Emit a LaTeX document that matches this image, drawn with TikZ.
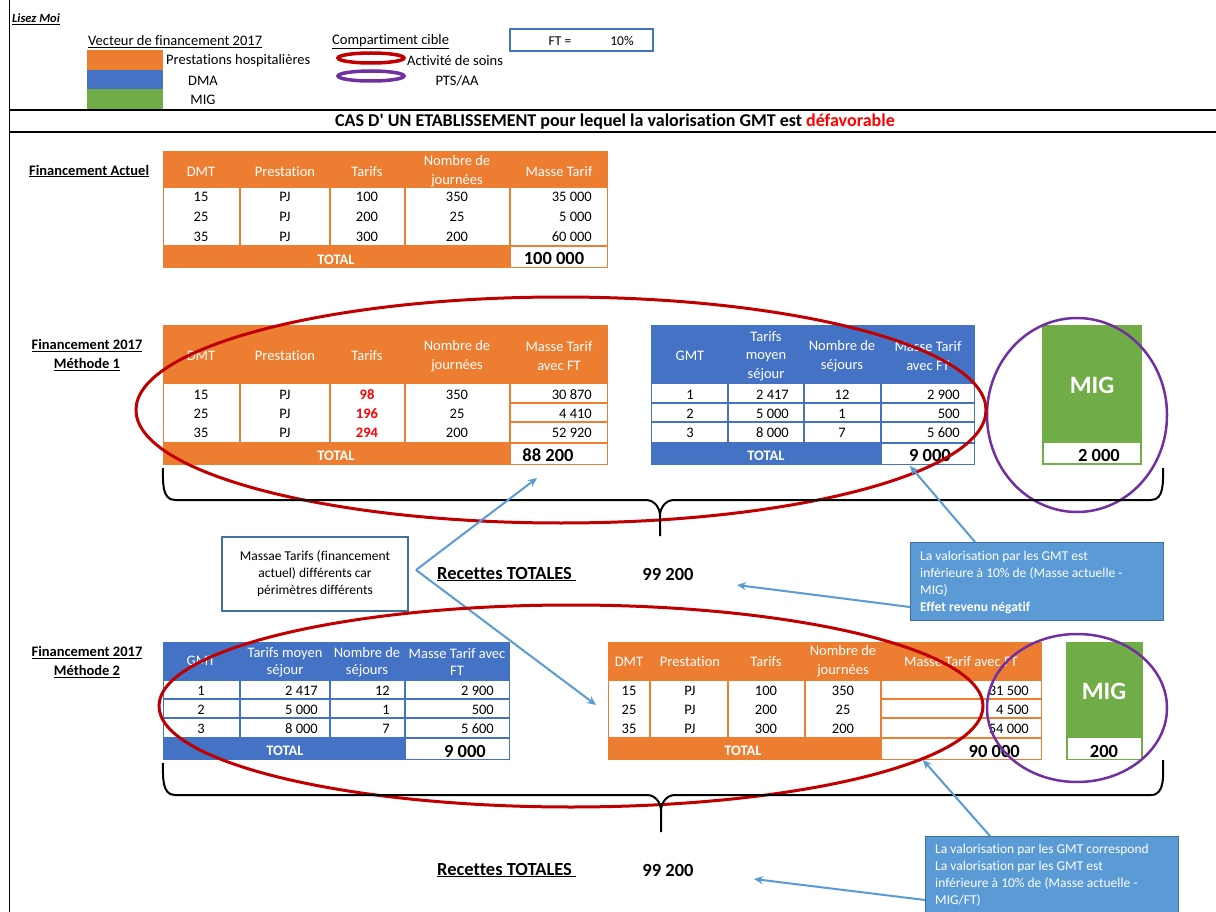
\documentclass[tikz,border=0pt]{standalone}
\usepackage{fontspec}
\setmainfont{Carlito}[Ligatures=NoCommon]
\usetikzlibrary{arrows.meta}

\definecolor{xlorange}{HTML}{ED7D31}
\definecolor{xlblue}{HTML}{4472C4}
\definecolor{xlgreen}{HTML}{70AD47}
\definecolor{xlsky}{HTML}{5B9BD5}
\definecolor{xlsteel}{HTML}{41719C}
\definecolor{xlred}{HTML}{C00000}
\definecolor{xlpurple}{HTML}{7030A0}
\definecolor{xlalert}{HTML}{FF0000}

\newcommand{\xlcell}{\fontsize{14.5}{18.5}\selectfont}
\newcommand{\xlnote}{\fontsize{13.5}{17}\selectfont}
\newcommand{\xlbig}{\fontsize{18.5}{21}\selectfont\bfseries}

\tikzset{
  txt/.style={inner sep=0pt, font=\xlcell},
  hd/.style={txt, text=white, align=center},
  num/.style={txt, anchor=east},
  big/.style={inner sep=0pt, font=\xlbig},
  lbl/.style={inner sep=0pt, align=center, font=\fontsize{14.5}{19}\selectfont\bfseries},
  note/.style={inner sep=0pt, align=left, anchor=north west, text=white, font=\xlnote},
  callout/.style={draw=xlsteel, fill=xlsky, line width=1pt, inner sep=0pt, anchor=north west},
  pointer/.style={draw=xlsky, line width=2pt, -{Stealth[length=9pt,width=8pt]}},
  ring/.style={line width=3pt},
  bracket/.style={line width=2pt},
}

\begin{document}
\begin{tikzpicture}[x=1pt, y=-1pt]
  \fill[white] (0,0) rectangle (1216,912);
  \useasboundingbox (0,0) rectangle (1216,912);

  % legend
  \draw[line width=1pt] (9,0) -- (9,912);
  \node[txt, anchor=west, font=\fontsize{12.5}{15}\selectfont\bfseries\itshape] (readme) at (12,19) {\underline{Lisez Moi}};
  \node[txt, anchor=west] (vecteur) at (88,42) {\underline{Vecteur de financement 2017}};
  \node[txt, anchor=west] (cible) at (332,42) {\underline{Compartiment cible}};
  \draw[xlblue, line width=2pt] (510,29) rectangle (653,51);
  \node[txt, font=\xlnote] (ftlabel) at (560,41) {FT =};
  \node[txt, font=\xlnote] (ftvalue) at (622,41) {10\%};
  \fill[xlorange] (87,50) rectangle (163,70);
  \fill[xlblue] (87,70) rectangle (163,89);
  \fill[xlgreen] (87,89) rectangle (163,109);
  \node[txt, anchor=west] (presta) at (166,61) {Prestations hospitalières};
  \node[txt] (dma) at (203,81) {DMA};
  \node[txt] (mig) at (203,100) {MIG};
  \draw[xlred, line width=3.5pt] (371,58) ellipse [x radius=33, y radius=5];
  \draw[xlpurple, line width=3.5pt] (371,76) ellipse [x radius=33, y radius=5];
  \node[txt, anchor=west] (soins) at (407,61) {Activité de soins};
  \node[txt] (ptsaa) at (457,81) {PTS/AA};
  \draw[line width=2.5pt] (9,110) -- (1216,110);
  \draw[line width=2.5pt] (9,132) -- (1216,132);
  \node[txt, font=\fontsize{18}{20}\selectfont\bfseries] (titre) at (615,122) {CAS D\textquotesingle{} UN ETABLISSEMENT pour lequel la valorisation GMT est \textcolor{xlalert}{défavorable}};

  % financement actuel
  \node[lbl, anchor=west] (actuel) at (29,171) {\underline{Financement Actuel}};
  \fill[xlorange] (163,151) rectangle (608,268);
  \fill[white] (164,188) rectangle (607,245);
  \draw[xlorange, line width=2pt] (240,187) -- (240,246);
  \draw[xlorange, line width=2pt] (330,187) -- (330,246);
  \draw[xlorange, line width=2pt] (405,187) -- (405,246);
  \draw[xlorange, line width=2pt] (510,187) -- (510,246);
  \fill[white] (511,247) rectangle (607,267);
  \node[hd] (a-dmt) at (201,172) {DMT};
  \node[hd] (a-presta) at (285,172) {Prestation};
  \node[hd] (a-tarif) at (367,172) {Tarifs};
  \node[hd] (a-nb) at (457,171) {Nombre de\\journées};
  \node[hd] (a-masse) at (559,172) {Masse Tarif};
  \node[txt] (a-d1) at (201,197) {15};
  \node[txt] (a-p1) at (285,197) {PJ};
  \node[txt] (a-t1) at (367,197) {100};
  \node[txt] (a-n1) at (457,197) {350};
  \node[num] (a-m1) at (592,197) {35 000};
  \node[txt] (a-d2) at (201,217) {25};
  \node[txt] (a-p2) at (285,217) {PJ};
  \node[txt] (a-t2) at (367,217) {200};
  \node[txt] (a-n2) at (457,217) {25};
  \node[num] (a-m2) at (592,217) {5 000};
  \node[txt] (a-d3) at (201,237) {35};
  \node[txt] (a-p3) at (285,237) {PJ};
  \node[txt] (a-t3) at (367,237) {300};
  \node[txt] (a-n3) at (457,237) {200};
  \node[num] (a-m3) at (592,237) {60 000};
  \node[hd, font=\xlcell\bfseries] (a-total) at (336,260) {TOTAL};
  \node[big] (a-sum) at (554,258) {100 000};

  % methode 1, prestations
  \node[lbl] (m1) at (87,355) {\underline{Financement 2017}\\\underline{Méthode 1}};
  \fill[xlorange] (163,325) rectangle (608,465);
  \fill[white] (164,384) rectangle (607,442);
  \draw[xlorange, line width=2pt] (240,383) -- (240,443);
  \draw[xlorange, line width=2pt] (330,383) -- (330,443);
  \draw[xlorange, line width=2pt] (405,383) -- (405,443);
  \draw[xlorange, line width=2pt] (510,383) -- (510,443);
  \draw[xlorange, line width=2pt] (510,403) -- (608,403);
  \draw[xlorange, line width=2pt] (510,422) -- (608,422);
  \fill[white] (511,444) rectangle (607,464);
  \node[hd] (b-dmt) at (201,356) {DMT};
  \node[hd] (b-presta) at (285,356) {Prestation};
  \node[hd] (b-tarif) at (367,356) {Tarifs};
  \node[hd] (b-nb) at (457,356) {Nombre de\\journées};
  \node[hd] (b-masse) at (559,356) {Masse Tarif\\avec FT};
  \node[txt] (b-d1) at (201,395) {15};
  \node[txt] (b-p1) at (285,395) {PJ};
  \node[txt, text=xlalert, font=\xlcell\bfseries] (b-t1) at (367,395) {98};
  \node[txt] (b-n1) at (457,395) {350};
  \node[num] (b-m1) at (592,395) {30 870};
  \node[txt] (b-d2) at (201,414) {25};
  \node[txt] (b-p2) at (285,414) {PJ};
  \node[txt, text=xlalert, font=\xlcell\bfseries] (b-t2) at (367,414) {196};
  \node[txt] (b-n2) at (457,414) {25};
  \node[num] (b-m2) at (592,414) {4 410};
  \node[txt] (b-d3) at (201,433) {35};
  \node[txt] (b-p3) at (285,433) {PJ};
  \node[txt, text=xlalert, font=\xlcell\bfseries] (b-t3) at (367,433) {294};
  \node[txt] (b-n3) at (457,433) {200};
  \node[num] (b-m3) at (592,433) {52 920};
  \node[hd, font=\xlcell\bfseries] (b-total) at (336,456) {TOTAL};
  \node[big] (b-sum) at (548,455) {88 200};

  % methode 1, GMT
  \fill[xlblue] (651,325) rectangle (975,465);
  \fill[white] (652,384) rectangle (974,442);
  \draw[xlblue, line width=2pt] (728,383) -- (728,443);
  \draw[xlblue, line width=2pt] (804,383) -- (804,443);
  \draw[xlblue, line width=2pt] (881,383) -- (881,443);
  \draw[xlblue, line width=2pt] (651,403) -- (975,403);
  \draw[xlblue, line width=2pt] (651,422) -- (975,422);
  \fill[white] (882,444) rectangle (974,464);
  \node[hd] (c-gmt) at (690,356) {GMT};
  \node[hd] (c-tarif) at (766,356) {Tarifs\\moyen\\séjour};
  \node[hd] (c-nb) at (842,356) {Nombre de\\séjours};
  \node[hd] (c-masse) at (928,356) {Masse Tarif\\avec FT};
  \node[txt] (c-g1) at (690,395) {1};
  \node[num] (c-t1) at (789,395) {2 417};
  \node[txt] (c-n1) at (842,395) {12};
  \node[num] (c-m1) at (960,395) {2 900};
  \node[txt] (c-g2) at (690,414) {2};
  \node[num] (c-t2) at (789,414) {5 000};
  \node[txt] (c-n2) at (842,414) {1};
  \node[num] (c-m2) at (960,414) {500};
  \node[txt] (c-g3) at (690,433) {3};
  \node[num] (c-t3) at (789,433) {8 000};
  \node[txt] (c-n3) at (842,433) {7};
  \node[num] (c-m3) at (960,433) {5 600};
  \node[hd, font=\xlcell\bfseries] (c-total) at (766,456) {TOTAL};
  \node[big] (c-sum) at (930,455) {9 000};

  % methode 1, MIG
  \fill[xlgreen] (1042,325) rectangle (1142,465);
  \fill[white] (1044,443) rectangle (1140,463);
  \node[txt, text=white, font=\fontsize{25}{28}\selectfont\bfseries] (d-mig) at (1092,385) {MIG};
  \node[big] (d-sum) at (1099,455) {2 000};

  \draw[xlpurple, line width=2.5pt] (1077,415) ellipse [x radius=90, y radius=97];
  \draw[xlred, ring] (561,410) ellipse [x radius=425, y radius=113];
  \draw[bracket] (163,468) to[out=-90,in=180] (175,500) -- (646,500) to[out=0,in=90] (660,516) -- (660,536);
  \draw[bracket] (1163,468) to[out=-90,in=0] (1151,500) -- (674,500) to[out=180,in=90] (660,516);

  % recettes 1
  \node[draw=xlsteel, line width=2pt, fill=white, minimum width=186, minimum height=74, inner sep=0pt, align=center, font=\xlnote] (massae) at (315,574) {Massae Tarifs (financement\\actuel) différents car\\périmètres différents};
  \node[big, anchor=west] (recettes1) at (437,574) {\underline{Recettes TOTALES\ }};
  \node[big] (total1) at (668,574) {99 200};
  \node[callout, minimum width=253, minimum height=78] (valo1) at (910,542) {};
  \node[note] (valo1txt) at (920,551) {La valorisation par les GMT est\\inférieure à 10\% de (Masse actuelle -\\MIG)\\\textbf{Effet revenu négatif}};
  \coordinate (m1sum) at (537,478);
  \coordinate (m2row) at (596,705);
  \coordinate (gmt1) at (910,466);
  \coordinate (rec1) at (737,585);
  \draw[pointer] ([xshift=7pt,yshift=4pt]massae.east) -- (m1sum);
  \draw[pointer] ([xshift=7pt,yshift=4pt]massae.east) -- (m2row);
  \draw[pointer] ([xshift=65pt]valo1.north west) -- (gmt1);
  \draw[pointer] ([yshift=14pt]valo1.south west) -- (rec1);

  % methode 2, GMT
  \node[lbl] (m2) at (87,662) {\underline{Financement 2017}\\\underline{Méthode 2}};
  \fill[xlblue] (163,642) rectangle (510,760);
  \fill[white] (164,681) rectangle (509,737);
  \draw[xlblue, line width=2pt] (240,680) -- (240,738);
  \draw[xlblue, line width=2pt] (330,680) -- (330,738);
  \draw[xlblue, line width=2pt] (405,680) -- (405,738);
  \draw[xlblue, line width=2pt] (163,699) -- (510,699);
  \draw[xlblue, line width=2pt] (163,718) -- (510,718);
  \fill[white] (406,739) rectangle (509,759);
  \node[hd] (g-gmt) at (201,661) {GMT};
  \node[hd, font=\fontsize{14.5}{17}\selectfont] (g-tarif) at (285,662) {Tarifs moyen\\séjour};
  \node[hd, font=\fontsize{14.5}{17}\selectfont] (g-nb) at (367,662) {Nombre de\\séjours};
  \node[hd, font=\fontsize{14.5}{17}\selectfont] (g-masse) at (457,662) {Masse Tarif avec\\FT};
  \node[txt] (g-g1) at (201,691) {1};
  \node[num] (g-t1) at (318,691) {2 417};
  \node[num] (g-n1) at (390,691) {12};
  \node[num] (g-m1) at (494,691) {2 900};
  \node[txt] (g-g2) at (201,710) {2};
  \node[num] (g-t2) at (318,710) {5 000};
  \node[num] (g-n2) at (390,710) {1};
  \node[num] (g-m2) at (494,710) {500};
  \node[txt] (g-g3) at (201,729) {3};
  \node[num] (g-t3) at (318,729) {8 000};
  \node[num] (g-n3) at (390,729) {7};
  \node[num] (g-m3) at (494,729) {5 600};
  \node[hd, font=\xlcell\bfseries] (g-total) at (285,751) {TOTAL};
  \node[big] (g-sum) at (465,751) {9 000};

  % methode 2, prestations
  \fill[xlorange] (608,642) rectangle (1042,760);
  \fill[white] (609,681) rectangle (1041,737);
  \draw[xlorange, line width=2pt] (650,680) -- (650,738);
  \draw[xlorange, line width=2pt] (728,680) -- (728,738);
  \draw[xlorange, line width=2pt] (805,680) -- (805,738);
  \draw[xlorange, line width=2pt] (881,680) -- (881,738);
  \draw[xlorange, line width=2pt] (881,699) -- (1042,699);
  \draw[xlorange, line width=2pt] (881,718) -- (1042,718);
  \fill[white] (882,739) rectangle (1041,759);
  \node[hd] (h-dmt) at (629,662) {DMT};
  \node[hd] (h-presta) at (690,662) {Prestation};
  \node[hd] (h-tarif) at (766,662) {Tarifs};
  \node[hd] (h-nb) at (843,661) {Nombre de\\journées};
  \node[hd] (h-masse) at (961,662) {Masse Tarif avec FT};
  \node[txt] (h-d1) at (629,691) {15};
  \node[txt] (h-p1) at (690,691) {PJ};
  \node[txt] (h-t1) at (766,691) {100};
  \node[txt] (h-n1) at (843,691) {350};
  \node[num] (h-m1) at (1029,691) {31 500};
  \node[txt] (h-d2) at (629,710) {25};
  \node[txt] (h-p2) at (690,710) {PJ};
  \node[txt] (h-t2) at (766,710) {200};
  \node[txt] (h-n2) at (843,710) {25};
  \node[num] (h-m2) at (1029,710) {4 500};
  \node[txt] (h-d3) at (629,729) {35};
  \node[txt] (h-p3) at (690,729) {PJ};
  \node[txt] (h-t3) at (766,729) {300};
  \node[txt] (h-n3) at (843,729) {200};
  \node[num] (h-m3) at (1029,729) {54 000};
  \node[hd, font=\xlcell\bfseries] (h-total) at (743,751) {TOTAL};
  \node[big, anchor=east] (h-sum) at (1020,751) {90 000};

  % methode 2, MIG
  \fill[xlgreen] (1066,642) rectangle (1143,760);
  \fill[white] (1068,738) rectangle (1141,759);
  \node[txt, text=white, font=\fontsize{25}{28}\selectfont\bfseries] (i-mig) at (1104,691) {MIG};
  \node[big] (i-sum) at (1104,751) {200};

  \draw[xlpurple, line width=2.5pt] (1077,708) ellipse [x radius=90, y radius=74];
  \draw[xlred, ring] (571,706) ellipse [x radius=412, y radius=101];
  \draw[bracket] (163,763) to[out=-90,in=180] (175,795) -- (647,795) to[out=0,in=90] (661,811) -- (661,832);
  \draw[bracket] (1163,760) to[out=-90,in=0] (1151,795) -- (675,795) to[out=180,in=90] (661,811);

  % recettes 2
  \node[big, anchor=west] (recettes2) at (437,870) {\underline{Recettes TOTALES\ }};
  \node[big] (total2) at (668,870) {99 200};
  \node[callout, minimum width=253, minimum height=80] (valo2) at (925,836) {};
  \node[note] (valo2txt) at (935,844) {La valorisation par les GMT correspond\\La valorisation par les GMT est\\inférieure à 10\% de (Masse actuelle -\\MIG/FT)};
  \coordinate (h-foot) at (923,760);
  \coordinate (rec2) at (754,879);
  \draw[pointer] ([xshift=65pt]valo2.north west) -- (h-foot);
  \draw[pointer] ([yshift=17pt]valo2.south west) -- (rec2);
\end{tikzpicture}
\end{document}
